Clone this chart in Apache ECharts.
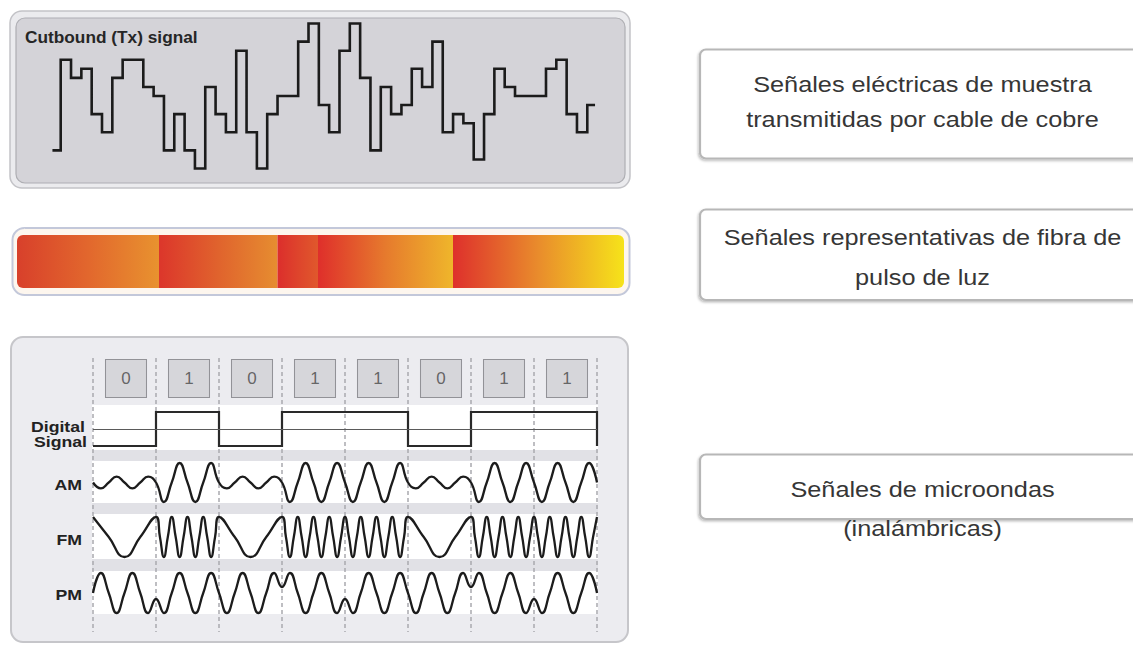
<!DOCTYPE html>
<html>
<head>
<meta charset="utf-8">
<script src="https://cdn.jsdelivr.net/npm/echarts@6/dist/echarts.min.js"></script>
<style>
html,body{margin:0;padding:0;background:#ffffff;}
#c{width:1133px;height:648px;}
</style>
</head>
<body>
<div id="c"></div>
<script>
// ---------------- DATA ----------------
// Outbound (Tx) copper signal: quantised level of each sample slot
const txStartLevel = 2;
const txLevels = [12,10,11,6,4,10,12,12,9,8,
                  2,6,2,0,9,6,4,13,4,0,
                  6,8,8,14,16,7,4,13,16,10,
                  2,9,6,7,11,9,14,4,6,5,
                  1,6,11,9,8,8,8,11,12,6,
                  4];
const txEndLevel = 7;

// Light pulses on fibre: pulse lengths (arbitrary length units)
const pulseLengths = [142, 118.5, 40.5, 135, 171];

// Bits of the wireless example
const bitLabels = ['0','1','0','1','1','0','1','1'];
const bits = [0,1,0,1,1,0,1,1];

// AM: turning points every 1/8 bit
const amValues = [
  0,-0.3,0,0.3,0,-0.3,0,0.3,
  0,-1,0,1,0,-1,0,1,
  0,-0.3,0,0.3,0,-0.3,0,0.3,
  0,-1,0,1,0,-1,0,1,
  0,-1,0,1,0,-1,0,1,
  0,-0.3,0,0.3,0,-0.3,0,0.3,
  0,-1,0,1,0,-1,0,1,
  0,-1,0,1,0,-1,0,1,
  0
];

// FM: turning points of each bit (spread evenly inside the bit)
const fmValues = [
  [1,0,-1,0],
  [1,0,-1,0, 1,0,-1,0, 1,0,-1,0, 1,0,-1,0],
  [1,0,-1,0],
  [1,0,-1,0, 1,0,-1,0, 1,0,-1,0, 1,0,-1,0],
  [1,0,-1,0, 1,0,-1,0, 1,0,-1,0, 1,0,-1,0],
  [1,0,-1,0],
  [1,0,-1,0, 1,0,-1,0, 1,0,-1,0, 1,0,-1,0],
  [1,0,-1,0, 1,0,-1,0, 1,0,-1,0, 1,0,-1,0]
];
const fmEnd = 1;

// PM: turning points of each bit (phase flips at each "1")
const pmValues = [
  [0,1,0,-1,0,1,0,-1],
  [-0.3,-1,0,1,0,-1,0,1],
  [0,-1,0,1,0,-1,0,1],
  [0.3,1,0,-1,0,1,0,-1],
  [-0.3,-1,0,1,0,-1,0,1],
  [0,-1,0,1,0,-1,0,1],
  [0.3,1,0,-1,0,1,0,-1],
  [-0.3,-1,0,1,0,-1,0,1]
];
const pmEnd = 0;

// Texts
const txTitle = 'Cutbound (Tx) signal';
const rowLabels = ['AM','FM','PM'];
const boxTexts = [
  ['Señales eléctricas de muestra','transmitidas por cable de cobre'],
  ['Señales representativas de fibra de','pulso de luz'],
  ['Señales de microondas','(inalámbricas)']
];

// ---------------- STYLES ----------------
const pulseColors = [
  ['#d8402b','#e2672d','#e8922f'],
  ['#dc362b','#e0632d','#e68d30'],
  ['#dc2e2c','#de442c','#e0582c'],
  ['#df2f2b','#e67a2d','#efb62b'],
  ['#de302c','#e98c2c','#f6e31a']
];
const FONT = '"Liberation Sans", Arial, sans-serif';

// ---------------- BUILD ----------------
const txData = [[-0.8, txStartLevel]];
txLevels.forEach((v, i) => txData.push([i, v]));
txData.push([51, txEndLevel], [51.75, txEndLevel]);

const digData = bits.map((b, k) => [k, b]);
digData.push([8, bits[7]], [8, 0]);

const amData = amValues.map((v, i) => [i / 8, v]);

function spread(perBit, endVal) {
  const out = [];
  perBit.forEach((arr, k) => arr.forEach((v, j) => out.push([k + j / arr.length, v])));
  out.push([perBit.length, endVal]);
  return out;
}
const fmData = spread(fmValues, fmEnd);
const pmData = spread(pmValues, pmEnd);

const bitData = bits.map((b, k) => [k + 0.5, 0.5, bitLabels[k]]);

const B = {left: 93, width: 504};
const grids = [
  {left: 52.44, top: 23.5, width: 542.6, height: 145},          // 0 Tx
  {left: B.left, width: B.width, top: 359, height: 39},           // 1 bits
  {left: B.left, width: B.width, top: 412, height: 34},           // 2 digital
  {left: B.left, width: B.width, top: 463, height: 39},           // 3 AM
  {left: B.left, width: B.width, top: 517, height: 40},           // 4 FM
  {left: B.left, width: B.width, top: 573, height: 40},           // 5 PM
  {left: B.left, width: B.width, top: 358, height: 274},          // 6 dashed guides
  {left: 17, top: 235, width: 607, height: 53}                    // 7 fibre bar
];
const hidden = {show: false};
const xAxes = [
  Object.assign({type: 'value', gridIndex: 0, min: -0.8, max: 51.75}, hidden),
  Object.assign({type: 'value', gridIndex: 1, min: 0, max: 8}, hidden),
  Object.assign({type: 'value', gridIndex: 2, min: 0, max: 8}, hidden),
  Object.assign({type: 'value', gridIndex: 3, min: 0, max: 8}, hidden),
  Object.assign({type: 'value', gridIndex: 4, min: 0, max: 8}, hidden),
  Object.assign({type: 'value', gridIndex: 5, min: 0, max: 8}, hidden),
  {type: 'value', gridIndex: 6, min: 0, max: 8, interval: 1, z: 1,
   axisLine: {show: false}, axisTick: {show: false}, axisLabel: {show: false},
   splitLine: {show: true, showMinLine: true, showMaxLine: true,
     lineStyle: {color: '#a9a9ae', width: 1.5, type: [4, 3]}}},
  Object.assign({type: 'value', gridIndex: 7, min: 0, max: 607}, hidden)
];
const yAxes = [
  Object.assign({type: 'value', gridIndex: 0, min: 0, max: 16}, hidden),
  Object.assign({type: 'value', gridIndex: 1, min: 0, max: 1}, hidden),
  Object.assign({type: 'value', gridIndex: 2, min: 0, max: 1}, hidden),
  Object.assign({type: 'value', gridIndex: 3, min: -1, max: 1}, hidden),
  Object.assign({type: 'value', gridIndex: 4, min: -1, max: 1}, hidden),
  Object.assign({type: 'value', gridIndex: 5, min: -1, max: 1}, hidden),
  Object.assign({type: 'value', gridIndex: 6, min: 0, max: 1}, hidden),
  Object.assign({type: 'category', gridIndex: 7, data: ['fibra']}, hidden)
];

const waveStyle = {color: '#1c1c1c', width: 2.3};
const series = [
  {type: 'line', xAxisIndex: 0, yAxisIndex: 0, data: txData, step: 'end', symbol: 'none',
   clip: false, silent: true, lineStyle: {color: '#1b1b1b', width: 2.6, join: 'miter'}},
  {type: 'scatter', xAxisIndex: 1, yAxisIndex: 1, data: bitData, symbol: 'rect',
   symbolSize: [41, 38], symbolOffset: [1.5, 0], silent: true,
   itemStyle: {color: '#d1d1d5', borderColor: '#7e7e83', borderWidth: 1},
   label: {show: true, position: 'inside', formatter: p => p.value[2],
     fontSize: 17, color: '#474747', fontFamily: FONT}},
  {type: 'line', xAxisIndex: 2, yAxisIndex: 2, data: digData, step: 'end', symbol: 'none',
   clip: false, silent: true, lineStyle: {color: '#2a2a2a', width: 2.2, join: 'miter'},
   markLine: {silent: true, symbol: 'none', label: {show: false},
     lineStyle: {color: '#5a5a5a', width: 1, type: 'solid'}, data: [{yAxis: 0.5}]}},
  {type: 'line', xAxisIndex: 3, yAxisIndex: 3, data: amData, smooth: 0.5, symbol: 'none',
   clip: false, silent: true, lineStyle: waveStyle},
  {type: 'line', xAxisIndex: 4, yAxisIndex: 4, data: fmData, smooth: 0.5, symbol: 'none',
   clip: false, silent: true, lineStyle: waveStyle},
  {type: 'line', xAxisIndex: 5, yAxisIndex: 5, data: pmData, smooth: 0.5, symbol: 'none',
   clip: false, silent: true, lineStyle: waveStyle}
];
pulseLengths.forEach((len, i) => {
  const last = pulseLengths.length - 1;
  series.push({
    type: 'bar', xAxisIndex: 7, yAxisIndex: 7, stack: 'pulses', data: [len],
    barWidth: '100%', silent: true,
    itemStyle: {
      borderRadius: i === 0 ? [6, 0, 0, 6] : (i === last ? [0, 6, 6, 0] : 0),
      color: {type: 'linear', x: 0, y: 0, x2: 1, y2: 0, colorStops: [
        {offset: 0, color: pulseColors[i][0]},
        {offset: 0.5, color: pulseColors[i][1]},
        {offset: 1, color: pulseColors[i][2]}]}
    }
  });
});

// ---------------- DECORATION ----------------
const g = [];
// panel 1
g.push({type: 'rect', z: 0.1, shape: {x: 10, y: 11, width: 620, height: 177, r: 12},
  style: {fill: '#ebebee', stroke: '#c3c3c7', lineWidth: 1.5}});
g.push({type: 'rect', z: 0.2, shape: {x: 16, y: 18, width: 609, height: 165, r: 9},
  style: {fill: '#d4d3d8', stroke: '#aeaeb3', lineWidth: 1.2}});
// panel 2 frame
g.push({type: 'rect', z: 0.1, shape: {x: 12.5, y: 228, width: 617, height: 67, r: 12},
  style: {fill: '#fdf6ee', stroke: '#c3c8da', lineWidth: 2}});
// panel 3
g.push({type: 'rect', z: 0.1, shape: {x: 11, y: 337, width: 617, height: 305, r: 12},
  style: {fill: '#ececf0', stroke: '#c6c6ca', lineWidth: 2}});
g.push({type: 'rect', z: 0.3, shape: {x: 92, y: 405, width: 506, height: 209},
  style: {fill: '#e1e1e6'}});
[[405, 45], [461, 42], [514, 45], [571, 43]].forEach(b => {
  g.push({type: 'rect', z: 0.4, shape: {x: 92, y: b[0], width: 506, height: b[1]},
    style: {fill: '#ffffff'}});
});
// right boxes
[[49.5, 109], [209.5, 90.5], [454.5, 64.5]].forEach(b => {
  g.push({type: 'rect', z: 0.1, shape: {x: 700, y: b[0], width: 470, height: b[1], r: 6},
    style: {fill: '#ffffff', stroke: '#b7b7b7', lineWidth: 2.2,
      shadowBlur: 2, shadowOffsetX: -1, shadowOffsetY: 1.5, shadowColor: 'rgba(0,0,0,0.25)'}});
});
function txt(t, x, y, font, align, sx, color) {
  return {type: 'text', z: 3, x: x, y: y, scaleX: sx, scaleY: 1,
    style: {text: t, x: 0, y: 0, font: font, textAlign: align, textVerticalAlign: 'middle',
      fill: color}};
}
g.push(txt(txTitle, 25, 38, 'bold 16px ' + FONT, 'left', 1.08, '#262626'));
g.push(txt('Digital', 85, 427, 'bold 15px ' + FONT, 'right', 1.18, '#222'));
g.push(txt('Signal', 87, 442, 'bold 15px ' + FONT, 'right', 1.18, '#222'));
[485, 540, 595].forEach((y, i) => g.push(txt(rowLabels[i], 82, y, 'bold 15px ' + FONT, 'right', 1.18, '#222')));
const boxLineY = [[85, 120], [238, 278], [489.5, 529]];
boxTexts.forEach((lines, i) => lines.forEach((t, j) =>
  g.push(txt(t, 922.5, boxLineY[i][j], '22px ' + FONT, 'center', 1.15, '#363636'))));

const chart = echarts.init(document.getElementById('c'), null, {renderer: 'svg'});
chart.setOption({
  animation: false,
  backgroundColor: '#ffffff',
  grid: grids,
  xAxis: xAxes,
  yAxis: yAxes,
  series: series,
  graphic: {elements: g}
});
</script>
</body>
</html>
